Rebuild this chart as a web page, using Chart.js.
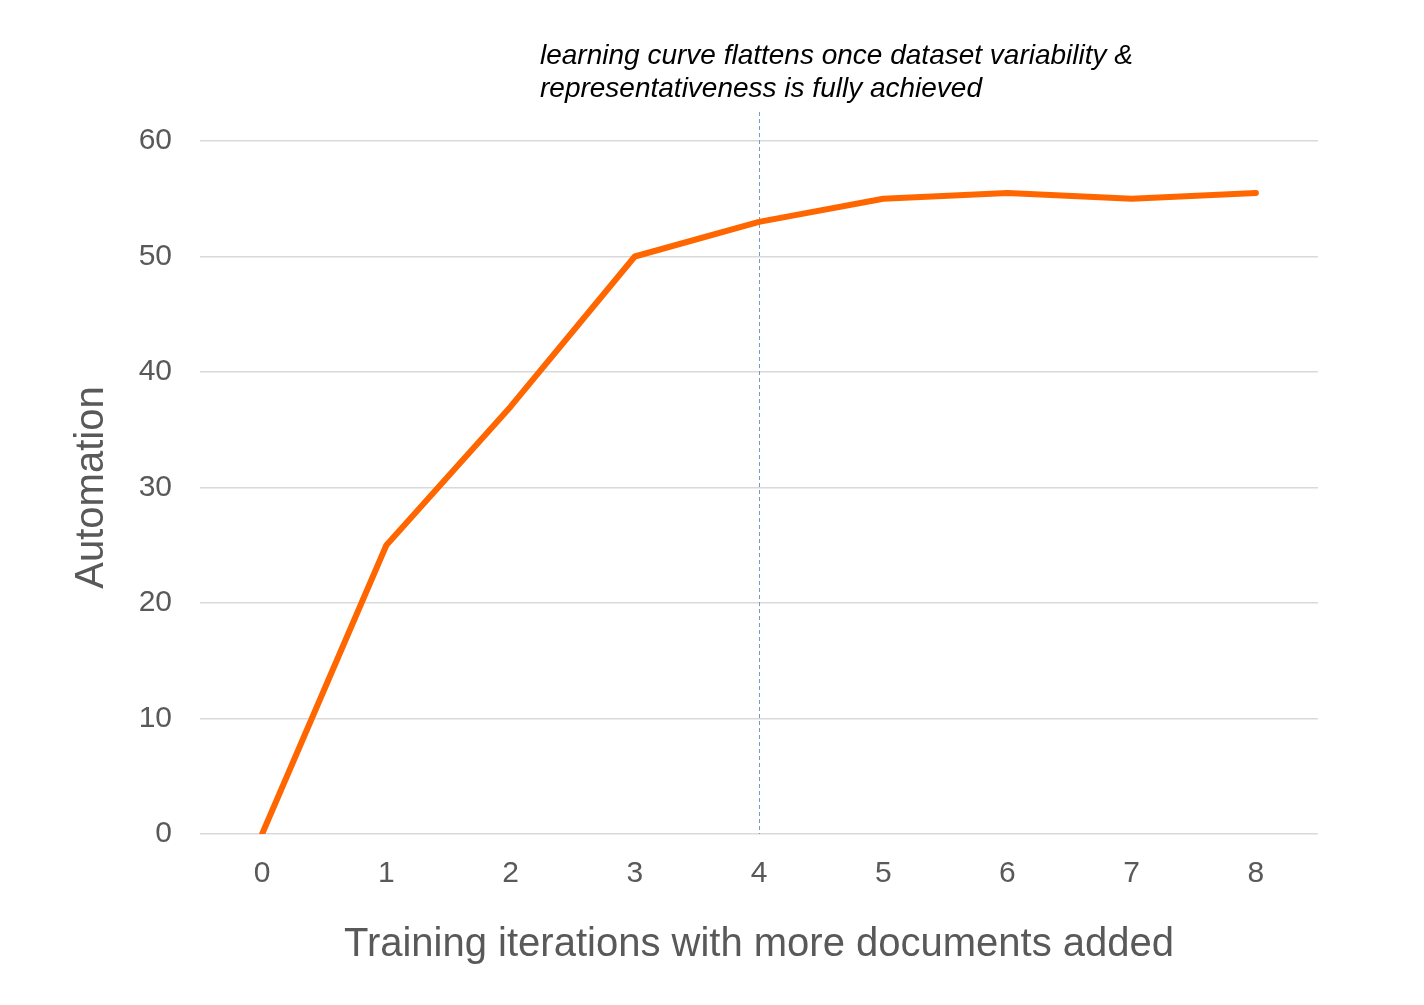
<!DOCTYPE html>
<html>
<head>
<meta charset="utf-8">
<script src="https://cdn.jsdelivr.net/npm/chart.js@4.4.1/dist/chart.umd.min.js"></script>
<style>
  html, body { margin: 0; padding: 0; background: #fff; }
  #wrap { width: 1424px; height: 1005px; }
</style>
</head>
<body>
<div id="wrap"><canvas id="chart"></canvas></div>
<script>
// data
const iterations = ['0', '1', '2', '3', '4', '5', '6', '7', '8'];
const automation = [0, 25, 37, 50, 53, 55, 55.5, 55, 55.5];
const yTicks = [0, 10, 20, 30, 40, 50, 60];
const markerAt = '4';
const noteLines = [
    'learning curve flattens once dataset variability &',
    'representativeness is fully achieved'
];

const FONT = "'Liberation Sans', Arial, sans-serif";

// dashed marker line + note text
const notePlugin = {
    id: 'note',
    beforeDatasetsDraw(chart) {
        const { ctx, scales } = chart;
        const x = Math.round(scales.x.getPixelForValue(iterations.indexOf(markerAt))) + 0.5;
        ctx.save();
        ctx.strokeStyle = '#6f9ccc';
        ctx.lineWidth = 1;
        ctx.setLineDash([4, 3]);
        ctx.beginPath();
        ctx.moveTo(x, 112);
        ctx.lineTo(x, scales.y.getPixelForValue(0));
        ctx.stroke();
        ctx.restore();
    },
    afterDraw(chart) {
        const ctx = chart.ctx;
        ctx.save();
        ctx.fillStyle = '#000';
        ctx.font = "italic 28px " + FONT;
        ctx.textBaseline = 'middle';
        ctx.fillText(noteLines[0], 540, 56);
        ctx.fillText(noteLines[1], 540, 89);
        ctx.restore();
    }
};

new Chart(document.getElementById('chart'), {
    type: 'line',
    data: {
        labels: iterations,
        datasets: [{
            data: automation,
            borderColor: '#ff6600',
            borderWidth: 6,
            borderCapStyle: 'round',
            borderJoinStyle: 'round',
            pointRadius: 0,
            tension: 0,
            fill: false
        }]
    },
    options: {
        responsive: true,
        maintainAspectRatio: false,
        animation: false,
        layout: { padding: { top: 141, right: 106, left: 64, bottom: 32 } },
        plugins: { legend: { display: false }, tooltip: { enabled: false } },
        scales: {
            x: {
                offset: true,
                grid: { display: false },
                border: { display: false },
                ticks: { color: '#595959', font: { family: FONT, size: 30 }, padding: 14 },
                title: {
                    display: true,
                    text: 'Training iterations with more documents added',
                    color: '#595959',
                    font: { family: FONT, size: 40 },
                    padding: { top: 20 }
                },
                afterFit(s) { s.height = 139; }
            },
            y: {
                min: 0,
                max: 60,
                afterBuildTicks(s) { s.ticks = yTicks.map(v => ({ value: v })); },
                grid: { color: '#d9d9d9', lineWidth: 1.5, drawTicks: false },
                border: { display: false },
                ticks: { color: '#595959', font: { family: FONT, size: 30 }, padding: 28 },
                title: {
                    display: true,
                    text: 'Automation',
                    color: '#595959',
                    font: { family: FONT, size: 40 },
                    padding: { bottom: 0 }
                },
                afterFit(s) { s.width = 136; }
            }
        }
    },
    plugins: [notePlugin]
});
</script>
</body>
</html>
